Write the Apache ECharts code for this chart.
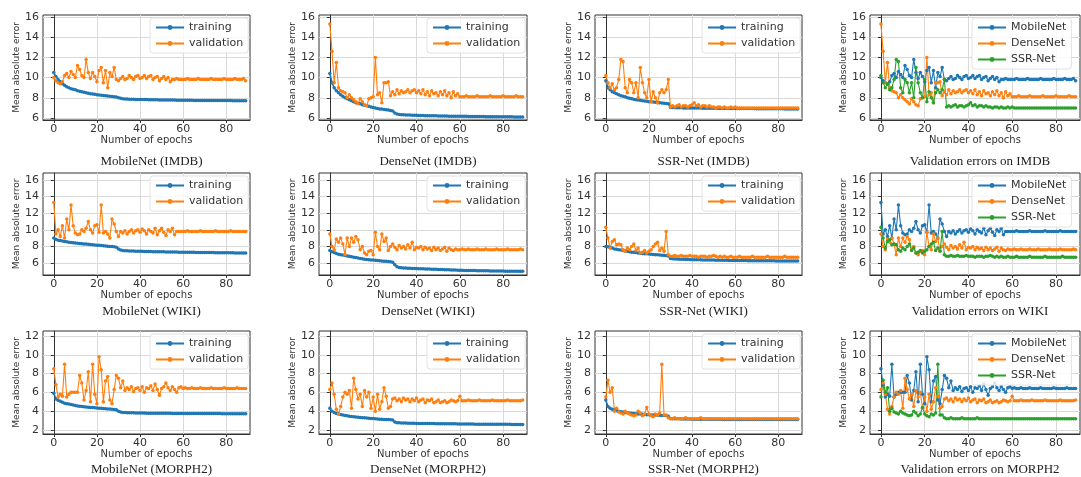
<!DOCTYPE html>
<html>
<head>
<meta charset="utf-8">
<script src="https://cdn.jsdelivr.net/npm/echarts@6/dist/echarts.min.js"></script>
<style>html,body{margin:0;padding:0;background:#fff}#c{width:1081px;height:477px}</style>
</head>
<body>
<div id="c"></div>
<script>
// ---- data ----
const xTicks = [0, 20, 40, 60, 80];
const yTicksTop = [6, 8, 10, 12, 14, 16];
const yTicksMorph = [2, 4, 6, 8, 10, 12];
const panelTitles = ['MobileNet (IMDB)','DenseNet (IMDB)','SSR-Net (IMDB)','Validation errors on IMDB',
  'MobileNet (WIKI)','DenseNet (WIKI)','SSR-Net (WIKI)','Validation errors on WIKI',
  'MobileNet (MORPH2)','DenseNet (MORPH2)','SSR-Net (MORPH2)','Validation errors on MORPH2'];
const modelNames = ['MobileNet','DenseNet','SSR-Net'];
const curveNames = ['training','validation'];

const mobileImdbTrain = [10.5,10.1,9.8,9.6,9.4,9.25,9.1,9.0,8.9,8.85,
 8.8,8.7,8.65,8.6,8.55,8.5,8.45,8.4,8.38,8.35,
 8.3,8.27,8.25,8.22,8.2,8.18,8.15,8.12,8.1,8.08,
 8.0,7.95,7.9,7.88,7.87,7.86,7.85,7.85,7.84,7.84,
 7.83,7.83,7.82,7.82,7.81,7.81,7.8,7.8,7.8,7.79,
 7.79,7.78,7.78,7.78,7.77,7.77,7.77,7.76,7.76,7.76,
 7.76,7.75,7.75,7.75,7.75,7.74,7.74,7.74,7.74,7.74,
 7.73,7.73,7.73,7.73,7.73,7.73,7.72,7.72,7.72,7.72,
 7.72,7.72,7.72,7.71,7.71,7.71,7.71,7.71,7.71,7.7];
const mobileImdbVal = [10.0,9.7,9.5,9.4,9.6,10.2,10.4,10.0,10.6,10.3,
 10.0,11.2,10.8,10.2,10.0,11.8,10.5,9.9,10.5,10.1,
 9.6,10.7,11.0,9.5,10.7,9.0,10.5,10.1,11.0,9.8,
 9.7,9.9,10.1,9.8,9.9,10.2,10.0,9.8,10.1,10.2,
 9.9,10.0,10.2,9.9,10.1,10.2,9.8,10.0,10.1,9.7,
 9.9,10.1,9.8,10.0,9.6,9.8,9.8,9.9,9.8,9.8,
 9.8,9.8,9.9,9.8,9.8,9.8,9.8,9.9,9.8,9.8,
 9.8,9.8,9.8,9.9,9.8,9.8,9.8,9.8,9.8,9.9,
 9.8,9.8,9.8,9.8,9.9,9.8,9.8,9.8,9.9,9.7];
const denseImdbTrain = [10.4,9.5,9.0,8.7,8.5,8.3,8.15,8.0,7.9,7.8,
 7.7,7.6,7.5,7.45,7.4,7.3,7.25,7.2,7.15,7.1,
 7.05,7.0,6.95,6.9,6.88,6.85,6.82,6.8,6.75,6.7,
 6.5,6.4,6.35,6.33,6.32,6.3,6.3,6.29,6.28,6.27,
 6.26,6.25,6.25,6.24,6.23,6.23,6.22,6.22,6.21,6.21,
 6.2,6.2,6.2,6.19,6.19,6.18,6.18,6.18,6.17,6.17,
 6.17,6.16,6.16,6.16,6.15,6.15,6.15,6.15,6.14,6.14,
 6.14,6.14,6.13,6.13,6.13,6.13,6.12,6.12,6.12,6.12,
 6.12,6.11,6.11,6.11,6.11,6.1,6.1,6.1,6.1,6.1];
const denseImdbVal = [15.3,12.6,9.5,11.5,9.0,8.7,8.6,8.5,8.0,8.3,
 8.0,7.8,7.6,7.4,7.9,7.6,7.3,7.2,7.9,8.0,
 8.1,12.0,8.3,8.5,7.5,9.5,9.5,9.6,8.2,8.6,
 8.3,8.8,8.4,8.7,8.5,8.6,8.8,8.5,8.7,8.8,
 8.5,8.7,8.4,8.8,8.3,8.6,8.2,8.7,8.4,8.5,
 8.2,8.6,8.3,8.7,8.2,8.5,8.0,8.6,8.2,8.4,
 8.1,8.1,8.1,8.2,8.1,8.1,8.1,8.1,8.2,8.1,
 8.1,8.1,8.1,8.1,8.2,8.1,8.1,8.1,8.1,8.1,
 8.2,8.1,8.1,8.1,8.1,8.1,8.2,8.1,8.1,8.1];
const ssrImdbTrain = [9.7,9.0,8.8,8.6,8.5,8.4,8.3,8.2,8.15,8.1,
 8.0,7.95,7.9,7.85,7.8,7.78,7.75,7.7,7.68,7.65,
 7.62,7.6,7.58,7.55,7.52,7.5,7.48,7.46,7.44,7.4,
 7.05,7.03,7.02,7.02,7.01,7.01,7.0,7.0,7.0,6.99,
 6.99,6.99,6.98,6.98,6.98,6.97,6.97,6.97,6.97,6.96,
 6.96,6.96,6.96,6.95,6.95,6.95,6.95,6.95,6.94,6.94,
 6.94,6.94,6.94,6.93,6.93,6.93,6.93,6.93,6.93,6.92,
 6.92,6.92,6.92,6.92,6.92,6.92,6.91,6.91,6.91,6.91,
 6.91,6.91,6.91,6.9,6.9,6.9,6.9,6.9,6.9,6.9];
const ssrImdbVal = [10.2,9.5,9.0,9.4,8.8,9.0,9.8,11.8,11.6,9.0,
 8.5,9.8,9.5,8.5,9.5,8.0,11.0,9.5,8.5,8.0,
 9.8,7.6,8.6,8.0,7.5,8.5,8.8,8.5,8.8,9.8,
 7.1,7.2,7.1,7.2,7.3,7.1,7.2,7.2,7.1,7.2,
 7.3,7.5,7.2,7.3,7.1,7.2,7.2,7.1,7.2,7.1,
 7.1,7.0,7.1,7.1,7.0,7.1,7.0,7.0,7.1,7.0,
 7.1,7.0,7.0,7.0,7.0,7.0,7.0,7.0,7.0,7.0,
 7.0,7.0,7.0,7.0,7.0,7.0,7.0,7.0,7.0,7.0,
 7.0,7.0,7.0,7.0,7.0,7.0,7.0,7.0,7.0,7.0];

const mobileWikiTrain = [9.0,8.85,8.75,8.7,8.65,8.6,8.55,8.5,8.47,8.44,
 8.4,8.38,8.35,8.33,8.3,8.28,8.25,8.23,8.2,8.18,
 8.15,8.13,8.1,8.08,8.05,8.03,8.0,7.98,7.95,7.9,
 7.7,7.55,7.5,7.48,7.46,7.45,7.44,7.43,7.42,7.41,
 7.4,7.4,7.39,7.38,7.38,7.37,7.36,7.36,7.35,7.35,
 7.34,7.34,7.33,7.33,7.32,7.32,7.31,7.31,7.3,7.3,
 7.3,7.29,7.29,7.28,7.28,7.28,7.27,7.27,7.27,7.26,
 7.26,7.26,7.25,7.25,7.25,7.24,7.24,7.24,7.23,7.23,
 7.23,7.22,7.22,7.22,7.21,7.21,7.21,7.2,7.2,7.2];
const mobileWikiVal = [13.3,9.5,10.0,9.2,10.5,9.0,11.3,10.0,13.0,10.5,
 9.6,9.4,9.5,10.0,9.8,10.2,11.0,10.0,9.6,10.5,
 10.6,9.7,13.0,9.6,9.8,9.5,9.0,11.3,10.7,9.8,
 9.2,9.8,9.6,9.9,9.5,9.8,10.0,9.6,9.9,10.0,
 9.7,10.1,9.9,9.5,10.0,9.8,9.6,10.2,9.4,9.9,
 10.2,9.7,9.3,10.0,9.8,10.2,9.4,9.8,9.8,9.8,
 9.8,9.8,9.9,9.8,9.8,9.8,9.8,9.8,9.9,9.8,
 9.8,9.8,9.8,9.8,9.8,9.9,9.8,9.8,9.8,9.8,
 9.8,9.8,9.9,9.8,9.8,9.8,9.8,9.8,9.8,9.8];
const denseWikiTrain = [7.5,7.35,7.25,7.15,7.05,7.0,6.95,6.9,6.85,6.8,
 6.75,6.7,6.65,6.6,6.55,6.5,6.45,6.42,6.4,6.37,
 6.35,6.32,6.3,6.27,6.25,6.22,6.2,6.18,6.15,6.1,
 5.8,5.55,5.45,5.42,5.4,5.38,5.36,5.35,5.34,5.33,
 5.32,5.31,5.3,5.29,5.28,5.27,5.26,5.25,5.24,5.23,
 5.22,5.21,5.2,5.19,5.18,5.17,5.16,5.15,5.14,5.13,
 5.12,5.11,5.1,5.1,5.09,5.09,5.08,5.08,5.07,5.07,
 5.06,5.06,5.05,5.05,5.04,5.04,5.03,5.03,5.02,5.02,
 5.02,5.01,5.01,5.0,5.0,5.0,5.0,4.99,4.99,4.99];
const denseWikiVal = [9.5,8.0,7.6,8.9,8.5,9.0,8.3,7.0,9.0,8.0,
 9.0,8.5,9.2,8.8,7.6,8.0,7.2,7.0,7.4,7.5,
 7.0,9.7,8.0,7.6,9.5,8.6,9.0,7.5,8.0,8.3,
 7.9,7.6,8.1,7.8,8.0,7.7,8.2,7.8,8.5,7.6,
 7.9,7.8,8.0,7.6,7.9,7.7,7.8,7.5,7.9,7.6,
 7.8,7.5,7.7,7.9,7.4,7.8,7.6,7.5,7.7,7.6,
 7.6,7.7,7.6,7.6,7.7,7.6,7.6,7.6,7.7,7.6,
 7.6,7.6,7.7,7.6,7.6,7.6,7.6,7.7,7.6,7.6,
 7.6,7.6,7.7,7.6,7.6,7.6,7.6,7.6,7.7,7.6];
const ssrWikiTrain = [8.0,7.95,7.85,7.8,7.7,7.65,7.6,7.55,7.5,7.45,
 7.4,7.35,7.3,7.28,7.25,7.2,7.18,7.15,7.12,7.1,
 7.08,7.05,7.03,7.0,6.98,6.96,6.94,6.92,6.9,6.85,
 6.55,6.5,6.48,6.47,6.46,6.45,6.44,6.43,6.42,6.41,
 6.4,6.4,6.39,6.38,6.38,6.37,6.37,6.36,6.36,6.35,
 6.35,6.34,6.34,6.33,6.33,6.32,6.32,6.31,6.31,6.31,
 6.3,6.3,6.3,6.29,6.29,6.29,6.28,6.28,6.28,6.28,
 6.27,6.27,6.27,6.27,6.26,6.26,6.26,6.26,6.26,6.25,
 6.25,6.25,6.25,6.25,6.25,6.24,6.24,6.24,6.24,6.24];
const ssrWikiVal = [10.3,9.0,7.8,8.6,8.8,8.2,8.3,8.2,7.6,7.4,
 7.8,7.6,8.0,8.3,7.5,7.8,7.2,7.3,7.5,7.2,
 7.4,7.6,8.0,8.3,8.5,7.5,7.8,7.4,9.8,7.0,
 6.8,6.8,6.9,6.8,6.8,6.9,6.8,6.8,6.8,6.9,
 6.8,6.8,6.8,6.7,6.8,6.8,6.8,6.7,6.8,6.8,
 6.9,6.8,6.7,6.8,6.7,6.8,6.7,6.7,6.8,6.7,
 6.7,6.7,6.8,6.7,6.7,6.7,6.7,6.7,6.8,6.7,
 6.7,6.7,6.7,6.7,6.7,6.8,6.7,6.7,6.7,6.7,
 6.7,6.7,6.7,6.8,6.7,6.7,6.7,6.7,6.7,6.7];

const mobileMorphTrain = [5.9,5.3,5.15,5.05,4.95,4.85,4.8,4.75,4.7,4.65,
 4.6,4.56,4.53,4.5,4.47,4.44,4.42,4.4,4.38,4.36,
 4.34,4.32,4.3,4.28,4.26,4.24,4.22,4.2,4.18,4.15,
 4.0,3.9,3.87,3.85,3.84,3.83,3.82,3.82,3.81,3.81,
 3.8,3.8,3.8,3.79,3.79,3.79,3.78,3.78,3.78,3.78,
 3.77,3.77,3.77,3.77,3.77,3.76,3.76,3.76,3.76,3.76,
 3.76,3.75,3.75,3.75,3.75,3.75,3.75,3.75,3.75,3.74,
 3.74,3.74,3.74,3.74,3.74,3.74,3.74,3.74,3.73,3.73,
 3.73,3.73,3.73,3.73,3.73,3.73,3.73,3.73,3.72,3.72];
const mobileMorphVal = [8.5,6.8,5.5,5.8,5.6,9.0,5.5,5.8,6.0,6.0,
 6.0,6.0,7.8,7.0,5.2,6.2,8.2,5.0,9.0,5.8,
 4.8,9.8,8.4,5.0,7.2,7.7,5.2,4.8,6.3,7.8,
 7.5,6.5,7.2,6.2,6.5,6.3,6.6,6.1,6.4,6.5,
 6.2,6.6,6.0,6.5,6.4,6.7,6.2,6.9,6.3,5.7,
 6.4,6.6,7.0,6.5,6.2,6.6,6.3,6.0,6.5,6.6,
 6.4,6.5,6.4,6.4,6.5,6.4,6.4,6.4,6.5,6.4,
 6.4,6.4,6.4,6.5,6.4,6.4,6.4,6.4,6.4,6.5,
 6.4,6.4,6.4,6.4,6.4,6.5,6.4,6.4,6.4,6.4];
const denseMorphTrain = [4.3,4.0,3.85,3.75,3.7,3.65,3.6,3.55,3.5,3.47,
 3.44,3.41,3.38,3.35,3.33,3.31,3.29,3.27,3.25,3.23,
 3.21,3.19,3.17,3.15,3.13,3.12,3.11,3.1,3.09,3.05,
 2.85,2.78,2.76,2.75,2.74,2.73,2.72,2.72,2.71,2.71,
 2.7,2.7,2.7,2.69,2.69,2.69,2.68,2.68,2.68,2.67,
 2.67,2.67,2.66,2.66,2.66,2.65,2.65,2.65,2.65,2.64,
 2.64,2.64,2.64,2.63,2.63,2.63,2.63,2.62,2.62,2.62,
 2.62,2.62,2.61,2.61,2.61,2.61,2.61,2.6,2.6,2.6,
 2.6,2.6,2.6,2.6,2.59,2.59,2.59,2.59,2.59,2.59];
const denseMorphVal = [6.3,7.0,5.8,4.2,3.7,4.5,5.5,6.0,5.8,6.2,
 4.3,7.5,6.3,5.3,5.8,4.5,6.2,5.5,6.0,4.3,
 5.5,4.0,5.8,4.2,5.0,6.5,5.6,4.3,4.5,5.3,
 5.4,5.1,5.3,5.0,5.4,5.2,5.3,5.0,5.3,5.1,
 5.4,5.0,5.2,5.3,4.9,5.2,5.1,5.3,4.9,5.0,
 5.2,4.9,5.0,5.1,4.9,5.0,5.2,5.1,5.0,5.1,
 5.6,5.1,5.1,5.1,5.2,5.1,5.1,5.1,5.1,5.2,
 5.1,5.1,5.1,5.1,5.1,5.2,5.1,5.1,5.1,5.1,
 5.1,5.1,5.2,5.1,5.1,5.1,5.1,5.1,5.1,5.2];
const ssrMorphTrain = [5.2,4.5,4.3,4.2,4.1,4.05,4.0,3.95,3.9,3.87,
 3.84,3.81,3.78,3.75,3.73,3.71,3.69,3.67,3.65,3.63,
 3.61,3.6,3.59,3.58,3.57,3.56,3.55,3.54,3.53,3.45,
 3.22,3.2,3.19,3.18,3.18,3.17,3.17,3.16,3.16,3.16,
 3.15,3.15,3.15,3.14,3.14,3.14,3.14,3.14,3.13,3.13,
 3.13,3.13,3.13,3.13,3.12,3.12,3.12,3.12,3.12,3.12,
 3.12,3.11,3.11,3.11,3.11,3.11,3.11,3.11,3.11,3.1,
 3.1,3.1,3.1,3.1,3.1,3.1,3.1,3.1,3.1,3.1,
 3.1,3.1,3.1,3.1,3.1,3.1,3.1,3.1,3.1,3.1];
const ssrMorphVal = [5.5,7.3,6.0,6.5,4.0,4.3,3.9,3.8,3.7,4.0,
 3.8,3.7,3.6,3.5,3.6,4.0,3.8,3.5,3.7,4.4,
 3.7,3.5,3.4,3.7,3.6,3.8,9.0,3.6,3.6,3.3,
 3.2,3.2,3.3,3.2,3.2,3.2,3.2,3.3,3.2,3.2,
 3.2,3.2,3.2,3.2,3.3,3.2,3.2,3.2,3.2,3.2,
 3.2,3.2,3.2,3.2,3.2,3.2,3.2,3.2,3.2,3.2,
 3.2,3.2,3.2,3.2,3.2,3.2,3.2,3.2,3.2,3.2,
 3.2,3.2,3.2,3.2,3.2,3.2,3.2,3.2,3.2,3.2,
 3.2,3.2,3.2,3.2,3.2,3.2,3.2,3.2,3.2,3.2];

// ---- layout ----
const BLUE = '#1f77b4', ORANGE = '#ff7f0e', GREEN = '#2ca02c';
const colBox = [[43, 250], [319, 527], [595, 802], [870, 1080]];
const rowBox = [[15, 120], [173, 275], [331, 434]];
const rowY = [[5.8, 16.2, yTicksTop], [4.55, 16.85, yTicksTop], [1.57, 12.53, yTicksMorph]];
const subtitleTop = [150, 300, 458];

const rows = [
  [[mobileImdbTrain, mobileImdbVal], [denseImdbTrain, denseImdbVal], [ssrImdbTrain, ssrImdbVal]],
  [[mobileWikiTrain, mobileWikiVal], [denseWikiTrain, denseWikiVal], [ssrWikiTrain, ssrWikiVal]],
  [[mobileMorphTrain, mobileMorphVal], [denseMorphTrain, denseMorphVal], [ssrMorphTrain, ssrMorphVal]]
];

const grids = [], xAxes = [], yAxes = [], series = [], titles = [], legends = [];
const font = 'DejaVu Sans';
function toPts(arr) { return arr.map((v, i) => [i, v]); }

let idx = 0;
for (let r = 0; r < 3; r++) {
  for (let c = 0; c < 4; c++) {
    const [x0, x1] = colBox[c], [y0, y1] = rowBox[r];
    grids.push({left: x0, top: y0, width: x1 - x0, height: y1 - y0, show: true,
      borderColor: '#333', borderWidth: 1, backgroundColor: '#fff'});
    xAxes.push({type: 'value', gridIndex: idx, min: -5, max: 91,
      name: 'Number of epochs', nameLocation: 'middle', nameGap: 12,
      nameTextStyle: {fontFamily: font, fontSize: 10, color: '#333'},
      axisLine: {show: true, lineStyle: {color: '#333'}},
      axisTick: {show: true, length: 3, customValues: xTicks, lineStyle: {color: '#333'}},
      axisLabel: {customValues: xTicks, fontFamily: font, fontSize: 11, color: '#333', margin: 4},
      splitLine: {show: true, lineStyle: {color: '#d9d9d9', width: 1}}});
    const [ymin, ymax, yt] = rowY[r];
    yAxes.push({type: 'value', gridIndex: idx, min: ymin, max: ymax,
      name: 'Mean absolute error', nameLocation: 'middle', nameGap: 21,
      nameTextStyle: {fontFamily: font, fontSize: 9, color: '#333'},
      axisLine: {show: true, lineStyle: {color: '#333'}},
      axisTick: {show: true, length: 3, customValues: yt, lineStyle: {color: '#333'}},
      axisLabel: {customValues: yt, fontFamily: font, fontSize: 11, color: '#333', margin: 4},
      splitLine: {show: true, lineStyle: {color: '#d9d9d9', width: 1}}});
    titles.push({text: panelTitles[idx], left: (x0 + x1) / 2, top: subtitleTop[r], textAlign: 'center',
      textStyle: {fontFamily: 'Liberation Serif', fontSize: 13, fontWeight: 'normal', color: '#222'}});

    let specs;
    if (c < 3) {
      specs = [[curveNames[0], rows[r][c][0], BLUE, 1.6], [curveNames[1], rows[r][c][1], ORANGE, 1.1]];
    } else {
      specs = [[modelNames[0], rows[r][0][1], BLUE, 1.1], [modelNames[1], rows[r][1][1], ORANGE, 1.1], [modelNames[2], rows[r][2][1], GREEN, 1.1]];
    }
    const names = specs.map(s => s[0]);
    specs.forEach(([name, arr, col, w]) => {
      series.push({type: 'line', name, xAxisIndex: idx, yAxisIndex: idx, data: toPts(arr),
        symbol: 'circle', symbolSize: 3.5, showSymbol: true,
        lineStyle: {color: col, width: w}, itemStyle: {color: col}, emphasis: {disabled: true}, z: 2});
    });
    legends.push({data: names, orient: 'vertical', left: c < 3 ? x1 - 100 : x1 - 108, top: y0 + 3,
      itemWidth: 28, itemHeight: 6, itemGap: 5, padding: [4, 5, 4, 5],
      borderColor: '#e2e2e2', borderWidth: 1, borderRadius: 3, backgroundColor: 'rgba(255,255,255,0.8)',
      textStyle: {fontFamily: font, fontSize: 11, color: '#333'}, selectedMode: false});
    idx++;
  }
}

const chart = echarts.init(document.getElementById('c'), null, {renderer: 'canvas'});
chart.setOption({animation: false, backgroundColor: '#fff', title: titles, grid: grids,
  xAxis: xAxes, yAxis: yAxes, series, legend: legends});
</script>
</body>
</html>
